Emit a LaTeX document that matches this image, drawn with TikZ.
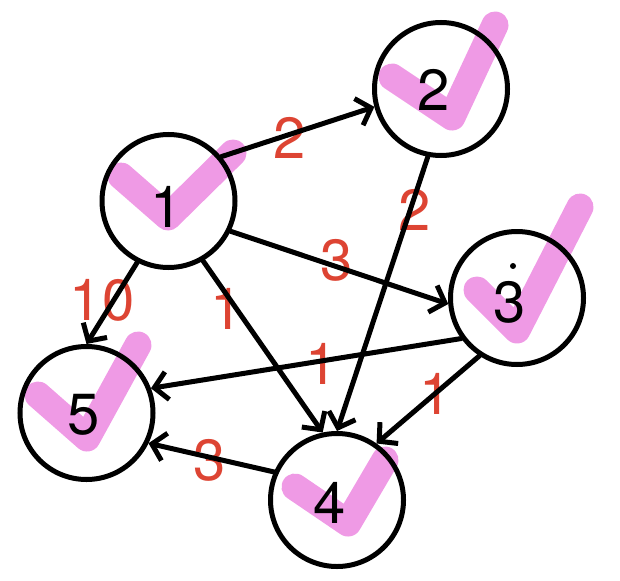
\documentclass[tikz,border=0pt]{standalone}
\usepackage{fontspec}
\setmainfont{TeX Gyre Heros}
\usetikzlibrary{arrows.meta}
\definecolor{chk}{HTML}{EF9AE5}
\definecolor{lbl}{HTML}{DD4433}
\tikzset{
  vtx/.style={circle, draw=black, line width=5pt, minimum size=133pt, inner sep=0pt},
  num/.style={inner sep=0pt, font=\fontsize{58}{60}\selectfont, text=black},
  wt/.style={inner sep=0pt, font=\fontsize{58}{60}\selectfont, text=lbl},
  chkmark/.style={draw=chk, line width=27pt, line cap=round, line join=round},
  edge/.style={draw=black, line width=5pt, line cap=round, -{Straight Barb[length=13pt,width=28pt,line width=5pt]}}
}
\begin{document}
\begin{tikzpicture}[x=1pt, y=-1pt]
\useasboundingbox (0,0) rectangle (620,580);
% check marks
\draw[chkmark] (121,176) -- (168,217) -- (233,153);
\draw[chkmark] (392,77) -- (452,117) -- (495,25);
\draw[chkmark] (477,290) -- (517,330) -- (580,207);
\draw[chkmark] (38,395) -- (87,438) -- (138,345);
\draw[chkmark] (295,487) -- (348,523) -- (385,460);
% vertices
\node[vtx] (n1) at (168.5,201) {};
\node[vtx] (n2) at (441,89) {};
\node[vtx] (n3) at (517,298) {};
\node[vtx] (n5) at (86.5,413) {};
\node[vtx] (n4) at (337,500) {};
\fill[black] (513,266) circle (3pt);
% weights
\node[wt] (w12) at (290,138) {2};
\node[wt] (w13) at (337,260) {3};
\node[wt] (w15) at (102,300) {10};
\node[wt] (w14) at (227,309) {1};
\node[wt] (w24) at (415,210) {2};
\node[wt] (w34) at (436,394) {1};
\node[wt] (w35) at (322,364) {1};
\node[wt] (w45) at (210,460) {3};
% edges
\draw[edge] (n1.40) -- (n2.195);
\draw[edge] (n1.-26) -- (n3.185);
\draw[edge] (n1.243) -- (n5.90);
\draw[edge] (n1.-60) -- (n4.102);
\draw[edge] (n2.259) -- (n4.90);
\draw[edge] (n3.237) -- (n4.55);
\draw[edge] (n3.216) -- (n5.21);
\draw[edge] (n4.156) -- (n5.-26);
% numbers
\node[num] (t1) at (167,207) {1};
\node[num] (t2) at (434,90) {2};
\node[num] (t3) at (510,302) {3};
\node[num] (t5) at (84,415) {5};
\node[num] (t4) at (330,503) {4};
\end{tikzpicture}
\end{document}
